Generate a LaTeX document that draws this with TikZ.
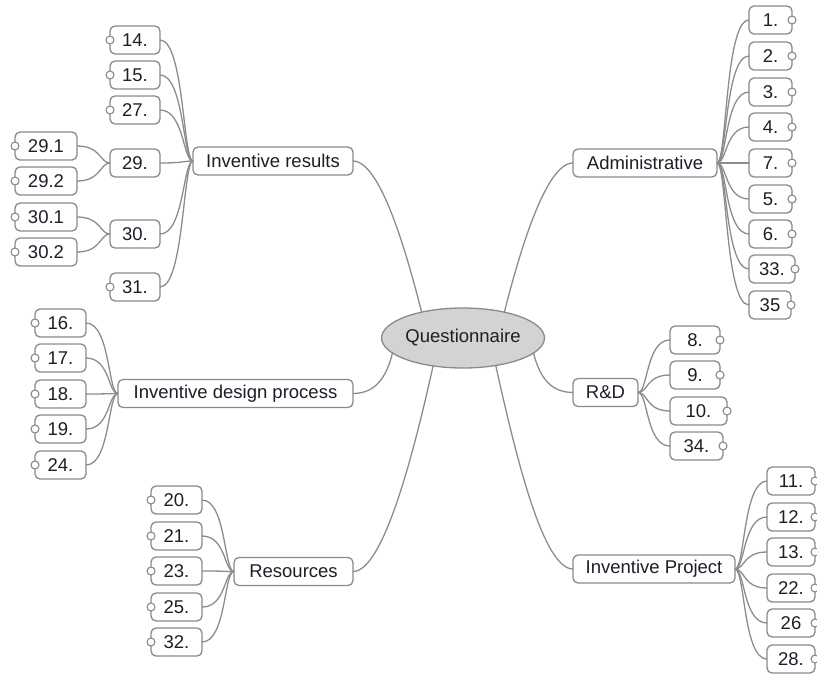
\documentclass[tikz,border=0pt]{standalone}
\usepackage{fontspec}
\setmainfont{Liberation Sans}
\usetikzlibrary{shapes.geometric,calc}
\definecolor{edgecol}{HTML}{8C8C8C}
\definecolor{bordcol}{HTML}{8A8A8A}
\definecolor{txtcol}{HTML}{1E1E28}
\definecolor{qfill}{HTML}{D3D3D3}
\tikzset{
  box/.style={draw=bordcol, fill=white, rounded corners=5pt, line width=1.3pt,
    minimum height=28pt, inner sep=0pt, outer sep=0pt, text=txtcol,
    font=\fontsize{18.5}{20}\selectfont},
  knob/.style={circle, draw=bordcol, fill=white, line width=1.1pt,
    minimum size=8pt, inner sep=0pt, outer sep=0pt},
  link/.style={draw=edgecol, line width=1.3pt},
  center/.style={ellipse, draw=bordcol, fill=qfill, line width=1.3pt,
    minimum width=156pt, minimum height=60pt, inner sep=0pt, outer sep=0pt,
    text=txtcol, font=\fontsize{18.5}{20}\selectfont},
}
\begin{document}
\begin{tikzpicture}[x=1pt,y=-1pt]
\useasboundingbox (0,0) rectangle (817,673);
\clip (0,0) rectangle (817,673);

% central node
\node[center] (Q) at (463,338) {Questionnaire};

% main nodes
\node[box, minimum width=160] (IR)  at (273,161) {Inventive results};
\node[box, minimum width=144] (AD)  at (645,163) {Administrative};
\node[box, minimum width=65]  (RD)  at (605.5,392.5) {R\&D};
\node[box, minimum width=235] (IDP) at (235.5,393.5) {Inventive design process};
\node[box, minimum width=119] (RES) at (293.5,571.5) {Resources};
\node[box, minimum width=162] (IP)  at (654,569) {Inventive Project};

% main connectors
\draw[link] (IR.east) .. controls +(28,0) and +(-14,-55) .. (Q.148);
\draw[link] (AD.west) .. controls +(-28,0) and +(14,-55) .. (Q.32);
\draw[link] (RD.west) .. controls +(-25,0) and +(5,20) .. (Q.-12);
\draw[link] (IDP.east) .. controls +(25,0) and +(-5,20) .. (Q.192);
\draw[link] (RES.east) .. controls +(30,0) and +(-20,90) .. (Q.223);
\draw[link] (IP.west) .. controls +(-30,0) and +(20,90) .. (Q.-40);

% Inventive results leaves
\foreach \nm/\tx/\yy in {a14/14./40, a15/15./75, a27/27./110, a29/29./163, a30/30./234, a31/31./287}
  \node[box, minimum width=50] (\nm) at (135,\yy) {\tx};
\foreach \nm in {a14,a15,a27,a29,a30,a31}
  \draw[link] (\nm.east) .. controls +(24,0) and +(-10,0) .. (IR.west);
\foreach \nm in {a14,a15,a27,a31}
  \node[knob] (k\nm) at (\nm.west) {};

\foreach \nm/\tx/\yy in {b291/29.1/146, b292/29.2/181, b301/30.1/217, b302/30.2/252}
  \node[box, minimum width=62] (\nm) at (46,\yy) {\tx};
\foreach \nm in {b291,b292}
  \draw[link] (\nm.east) .. controls +(24,0) and +(-10,0) .. (a29.west);
\foreach \nm in {b301,b302}
  \draw[link] (\nm.east) .. controls +(24,0) and +(-10,0) .. (a30.west);
\foreach \nm in {b291,b292,b301,b302}
  \node[knob] (k\nm) at (\nm.west) {};

% Inventive design process leaves
\foreach \nm/\tx/\yy in {d16/16./323, d17/17./358, d18/18./394, d19/19./429, d24/24./465}
  \node[box, minimum width=51] (\nm) at (60.5,\yy) {\tx};
\foreach \nm in {d16,d17,d18,d19,d24}{
  \draw[link] (\nm.east) .. controls +(24,0) and +(-10,0) .. (IDP.west);
  \node[knob] (k\nm) at (\nm.west) {};
}

% Resources leaves
\foreach \nm/\tx/\yy in {e20/20./500, e21/21./536, e23/23./571, e25/25./607, e32/32./642}
  \node[box, minimum width=51] (\nm) at (176.5,\yy) {\tx};
\foreach \nm in {e20,e21,e23,e25,e32}{
  \draw[link] (\nm.east) .. controls +(24,0) and +(-10,0) .. (RES.west);
  \node[knob] (k\nm) at (\nm.west) {};
}

% Administrative leaves
\foreach \nm/\tx/\yy/\ww in {f1/1./20/43, f2/2./56/43, f3/3./92/43, f4/4./127/43, f7/7./163/43, f5/5./199/43, f6/6./234/43, f33/33./269/46, f35/35/305/42}
  \node[box, minimum width=\ww, anchor=west] (\nm) at (749,\yy) {\tx};
\foreach \nm in {f1,f2,f3,f4,f7,f5,f6,f33,f35}{
  \draw[link] (\nm.west) .. controls +(-24,0) and +(10,0) .. (AD.east);
  \node[knob] (k\nm) at (\nm.east) {};
}

% R&D leaves
\foreach \nm/\tx/\yy/\ww in {g8/8./340/50, g9/9./375/50, g10/10./411/57, g34/34./446/53}
  \node[box, minimum width=\ww, anchor=west] (\nm) at (670,\yy) {\tx};
\foreach \nm in {g8,g9,g10,g34}{
  \draw[link] (\nm.west) .. controls +(-24,0) and +(10,0) .. (RD.east);
  \node[knob] (k\nm) at (\nm.east) {};
}

% Inventive Project leaves
\foreach \nm/\tx/\yy in {h11/11./481, h12/12./517, h13/13./552, h22/22./588, h26/26/623, h28/28./659}
  \node[box, minimum width=48, anchor=west] (\nm) at (767,\yy) {\tx};
\foreach \nm in {h11,h12,h13,h22,h26,h28}{
  \draw[link] (\nm.west) .. controls +(-24,0) and +(10,0) .. (IP.east);
  \node[knob] (k\nm) at (\nm.east) {};
}
\end{tikzpicture}
\end{document}
